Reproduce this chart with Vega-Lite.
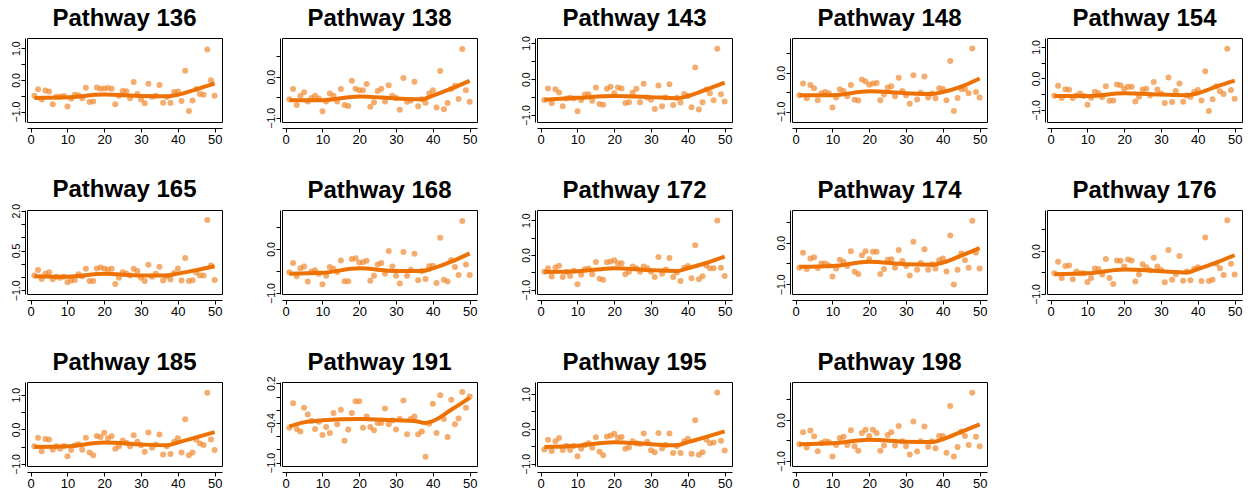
{
"$schema":"https://vega.github.io/schema/vega-lite/v6.json",
"padding":{"left":10,"top":6,"right":5,"bottom":5},
"bounds":"flush",
"columns":5,
"spacing":{"row":88,"column":60},
"datasets":{
"pts":[
{"p":"136","x":1,"y":-0.50},{"p":"136","x":2,"y":-0.30},{"p":"136","x":3,"y":-0.62},{"p":"136","x":4,"y":-0.34},{"p":"136","x":5,"y":-0.37},{"p":"136","x":6,"y":-0.77},{"p":"136","x":7,"y":-0.53},{"p":"136","x":8,"y":-0.53},{"p":"136","x":9,"y":-0.51},{"p":"136","x":10,"y":-0.84},
{"p":"136","x":11,"y":-0.59},{"p":"136","x":12,"y":-0.47},{"p":"136","x":13,"y":-0.49},{"p":"136","x":14,"y":-0.58},{"p":"136","x":15,"y":-0.25},{"p":"136","x":16,"y":-0.70},{"p":"136","x":17,"y":-0.68},{"p":"136","x":18,"y":-0.24},{"p":"136","x":19,"y":-0.28},{"p":"136","x":20,"y":-0.27},
{"p":"136","x":21,"y":-0.26},{"p":"136","x":22,"y":-0.28},{"p":"136","x":23,"y":-0.77},{"p":"136","x":24,"y":-0.50},{"p":"136","x":25,"y":-0.35},{"p":"136","x":26,"y":-0.36},{"p":"136","x":27,"y":-0.58},{"p":"136","x":28,"y":-0.07},{"p":"136","x":29,"y":-0.45},{"p":"136","x":30,"y":-0.62},
{"p":"136","x":31,"y":-0.74},{"p":"136","x":32,"y":-0.12},{"p":"136","x":33,"y":-0.53},{"p":"136","x":34,"y":-0.50},{"p":"136","x":35,"y":-0.16},{"p":"136","x":36,"y":-0.72},{"p":"136","x":37,"y":-0.54},{"p":"136","x":38,"y":-0.73},{"p":"136","x":39,"y":-0.38},{"p":"136","x":40,"y":-0.37},
{"p":"136","x":41,"y":-0.67},{"p":"136","x":42,"y":0.29},{"p":"136","x":43,"y":-0.98},{"p":"136","x":44,"y":-0.65},{"p":"136","x":45,"y":-0.29},{"p":"136","x":46,"y":-0.45},{"p":"136","x":47,"y":-0.47},{"p":"136","x":48,"y":0.96},{"p":"136","x":49,"y":-0.01},{"p":"136","x":50,"y":-0.50},
{"p":"138","x":1,"y":-0.55},{"p":"138","x":2,"y":-0.30},{"p":"138","x":3,"y":-0.69},{"p":"138","x":4,"y":-0.47},{"p":"138","x":5,"y":-0.38},{"p":"138","x":6,"y":-0.60},{"p":"138","x":7,"y":-0.52},{"p":"138","x":8,"y":-0.46},{"p":"138","x":9,"y":-0.53},{"p":"138","x":10,"y":-0.84},
{"p":"138","x":11,"y":-0.60},{"p":"138","x":12,"y":-0.41},{"p":"138","x":13,"y":-0.46},{"p":"138","x":14,"y":-0.60},{"p":"138","x":15,"y":-0.30},{"p":"138","x":16,"y":-0.69},{"p":"138","x":17,"y":-0.71},{"p":"138","x":18,"y":-0.10},{"p":"138","x":19,"y":-0.29},{"p":"138","x":20,"y":-0.33},
{"p":"138","x":21,"y":-0.33},{"p":"138","x":22,"y":-0.18},{"p":"138","x":23,"y":-0.73},{"p":"138","x":24,"y":-0.62},{"p":"138","x":25,"y":-0.35},{"p":"138","x":26,"y":-0.29},{"p":"138","x":27,"y":-0.60},{"p":"138","x":28,"y":-0.21},{"p":"138","x":29,"y":-0.46},{"p":"138","x":30,"y":-0.52},
{"p":"138","x":31,"y":-0.80},{"p":"138","x":32,"y":-0.03},{"p":"138","x":33,"y":-0.61},{"p":"138","x":34,"y":-0.58},{"p":"138","x":35,"y":-0.12},{"p":"138","x":36,"y":-0.72},{"p":"138","x":37,"y":-0.55},{"p":"138","x":38,"y":-0.63},{"p":"138","x":39,"y":-0.41},{"p":"138","x":40,"y":-0.33},
{"p":"138","x":41,"y":-0.75},{"p":"138","x":42,"y":0.14},{"p":"138","x":43,"y":-0.79},{"p":"138","x":44,"y":-0.64},{"p":"138","x":45,"y":-0.30},{"p":"138","x":46,"y":-0.22},{"p":"138","x":47,"y":-0.54},{"p":"138","x":48,"y":0.67},{"p":"138","x":49,"y":-0.33},{"p":"138","x":50,"y":-0.61},
{"p":"143","x":1,"y":-0.58},{"p":"143","x":2,"y":-0.26},{"p":"143","x":3,"y":-0.67},{"p":"143","x":4,"y":-0.28},{"p":"143","x":5,"y":-0.37},{"p":"143","x":6,"y":-0.75},{"p":"143","x":7,"y":-0.54},{"p":"143","x":8,"y":-0.52},{"p":"143","x":9,"y":-0.54},{"p":"143","x":10,"y":-0.89},
{"p":"143","x":11,"y":-0.58},{"p":"143","x":12,"y":-0.43},{"p":"143","x":13,"y":-0.42},{"p":"143","x":14,"y":-0.60},{"p":"143","x":15,"y":-0.23},{"p":"143","x":16,"y":-0.69},{"p":"143","x":17,"y":-0.71},{"p":"143","x":18,"y":-0.27},{"p":"143","x":19,"y":-0.21},{"p":"143","x":20,"y":-0.39},
{"p":"143","x":21,"y":-0.23},{"p":"143","x":22,"y":-0.26},{"p":"143","x":23,"y":-0.66},{"p":"143","x":24,"y":-0.64},{"p":"143","x":25,"y":-0.38},{"p":"143","x":26,"y":-0.27},{"p":"143","x":27,"y":-0.64},{"p":"143","x":28,"y":-0.13},{"p":"143","x":29,"y":-0.51},{"p":"143","x":30,"y":-0.57},
{"p":"143","x":31,"y":-0.83},{"p":"143","x":32,"y":-0.18},{"p":"143","x":33,"y":-0.75},{"p":"143","x":34,"y":-0.51},{"p":"143","x":35,"y":-0.14},{"p":"143","x":36,"y":-0.72},{"p":"143","x":37,"y":-0.52},{"p":"143","x":38,"y":-0.65},{"p":"143","x":39,"y":-0.41},{"p":"143","x":40,"y":-0.47},
{"p":"143","x":41,"y":-0.78},{"p":"143","x":42,"y":0.32},{"p":"143","x":43,"y":-0.84},{"p":"143","x":44,"y":-0.64},{"p":"143","x":45,"y":-0.29},{"p":"143","x":46,"y":-0.39},{"p":"143","x":47,"y":-0.59},{"p":"143","x":48,"y":0.84},{"p":"143","x":49,"y":-0.42},{"p":"143","x":50,"y":-0.62},
{"p":"148","x":1,"y":-0.58},{"p":"148","x":2,"y":-0.28},{"p":"148","x":3,"y":-0.66},{"p":"148","x":4,"y":-0.32},{"p":"148","x":5,"y":-0.40},{"p":"148","x":6,"y":-0.71},{"p":"148","x":7,"y":-0.53},{"p":"148","x":8,"y":-0.50},{"p":"148","x":9,"y":-0.53},{"p":"148","x":10,"y":-0.90},
{"p":"148","x":11,"y":-0.64},{"p":"148","x":12,"y":-0.43},{"p":"148","x":13,"y":-0.47},{"p":"148","x":14,"y":-0.61},{"p":"148","x":15,"y":-0.32},{"p":"148","x":16,"y":-0.70},{"p":"148","x":17,"y":-0.72},{"p":"148","x":18,"y":-0.18},{"p":"148","x":19,"y":-0.23},{"p":"148","x":20,"y":-0.31},
{"p":"148","x":21,"y":-0.28},{"p":"148","x":22,"y":-0.27},{"p":"148","x":23,"y":-0.71},{"p":"148","x":24,"y":-0.56},{"p":"148","x":25,"y":-0.38},{"p":"148","x":26,"y":-0.35},{"p":"148","x":27,"y":-0.61},{"p":"148","x":28,"y":-0.13},{"p":"148","x":29,"y":-0.47},{"p":"148","x":30,"y":-0.58},
{"p":"148","x":31,"y":-0.80},{"p":"148","x":32,"y":-0.07},{"p":"148","x":33,"y":-0.69},{"p":"148","x":34,"y":-0.52},{"p":"148","x":35,"y":-0.10},{"p":"148","x":36,"y":-0.64},{"p":"148","x":37,"y":-0.54},{"p":"148","x":38,"y":-0.66},{"p":"148","x":39,"y":-0.40},{"p":"148","x":40,"y":-0.42},
{"p":"148","x":41,"y":-0.71},{"p":"148","x":42,"y":0.30},{"p":"148","x":43,"y":-0.99},{"p":"148","x":44,"y":-0.65},{"p":"148","x":45,"y":-0.42},{"p":"148","x":46,"y":-0.42},{"p":"148","x":47,"y":-0.53},{"p":"148","x":48,"y":0.62},{"p":"148","x":49,"y":-0.50},{"p":"148","x":50,"y":-0.64},
{"p":"154","x":1,"y":-0.55},{"p":"154","x":2,"y":-0.23},{"p":"154","x":3,"y":-0.62},{"p":"154","x":4,"y":-0.34},{"p":"154","x":5,"y":-0.36},{"p":"154","x":6,"y":-0.62},{"p":"154","x":7,"y":-0.54},{"p":"154","x":8,"y":-0.48},{"p":"154","x":9,"y":-0.56},{"p":"154","x":10,"y":-0.83},
{"p":"154","x":11,"y":-0.61},{"p":"154","x":12,"y":-0.42},{"p":"154","x":13,"y":-0.47},{"p":"154","x":14,"y":-0.60},{"p":"154","x":15,"y":-0.25},{"p":"154","x":16,"y":-0.71},{"p":"154","x":17,"y":-0.70},{"p":"154","x":18,"y":-0.19},{"p":"154","x":19,"y":-0.22},{"p":"154","x":20,"y":-0.33},
{"p":"154","x":21,"y":-0.26},{"p":"154","x":22,"y":-0.26},{"p":"154","x":23,"y":-0.73},{"p":"154","x":24,"y":-0.58},{"p":"154","x":25,"y":-0.35},{"p":"154","x":26,"y":-0.33},{"p":"154","x":27,"y":-0.54},{"p":"154","x":28,"y":-0.11},{"p":"154","x":29,"y":-0.35},{"p":"154","x":30,"y":-0.48},
{"p":"154","x":31,"y":-0.78},{"p":"154","x":32,"y":0.03},{"p":"154","x":33,"y":-0.75},{"p":"154","x":34,"y":-0.40},{"p":"154","x":35,"y":-0.16},{"p":"154","x":36,"y":-0.74},{"p":"154","x":37,"y":-0.54},{"p":"154","x":38,"y":-0.59},{"p":"154","x":39,"y":-0.43},{"p":"154","x":40,"y":-0.37},
{"p":"154","x":41,"y":-0.70},{"p":"154","x":42,"y":0.23},{"p":"154","x":43,"y":-1.03},{"p":"154","x":44,"y":-0.66},{"p":"154","x":45,"y":-0.25},{"p":"154","x":46,"y":-0.41},{"p":"154","x":47,"y":-0.49},{"p":"154","x":48,"y":0.94},{"p":"154","x":49,"y":-0.37},{"p":"154","x":50,"y":-0.64},
{"p":"165","x":1,"y":-0.44},{"p":"165","x":2,"y":-0.23},{"p":"165","x":3,"y":-0.57},{"p":"165","x":4,"y":-0.38},{"p":"165","x":5,"y":-0.32},{"p":"165","x":6,"y":-0.58},{"p":"165","x":7,"y":-0.49},{"p":"165","x":8,"y":-0.53},{"p":"165","x":9,"y":-0.49},{"p":"165","x":10,"y":-0.70},
{"p":"165","x":11,"y":-0.63},{"p":"165","x":12,"y":-0.61},{"p":"165","x":13,"y":-0.39},{"p":"165","x":14,"y":-0.47},{"p":"165","x":15,"y":-0.19},{"p":"165","x":16,"y":-0.65},{"p":"165","x":17,"y":-0.65},{"p":"165","x":18,"y":-0.18},{"p":"165","x":19,"y":-0.14},{"p":"165","x":20,"y":-0.18},
{"p":"165","x":21,"y":-0.22},{"p":"165","x":22,"y":-0.19},{"p":"165","x":23,"y":-0.76},{"p":"165","x":24,"y":-0.53},{"p":"165","x":25,"y":-0.32},{"p":"165","x":26,"y":-0.37},{"p":"165","x":27,"y":-0.44},{"p":"165","x":28,"y":-0.19},{"p":"165","x":29,"y":-0.27},{"p":"165","x":30,"y":-0.53},
{"p":"165","x":31,"y":-0.65},{"p":"165","x":32,"y":-0.04},{"p":"165","x":33,"y":-0.49},{"p":"165","x":34,"y":-0.38},{"p":"165","x":35,"y":-0.11},{"p":"165","x":36,"y":-0.63},{"p":"165","x":37,"y":-0.47},{"p":"165","x":38,"y":-0.59},{"p":"165","x":39,"y":-0.35},{"p":"165","x":40,"y":-0.18},
{"p":"165","x":41,"y":-0.63},{"p":"165","x":42,"y":0.22},{"p":"165","x":43,"y":-0.65},{"p":"165","x":44,"y":-0.62},{"p":"165","x":45,"y":-0.33},{"p":"165","x":46,"y":-0.44},{"p":"165","x":47,"y":-0.44},{"p":"165","x":48,"y":1.65},{"p":"165","x":49,"y":-0.06},{"p":"165","x":50,"y":-0.61},
{"p":"168","x":1,"y":-0.53},{"p":"168","x":2,"y":-0.32},{"p":"168","x":3,"y":-0.62},{"p":"168","x":4,"y":-0.44},{"p":"168","x":5,"y":-0.40},{"p":"168","x":6,"y":-0.74},{"p":"168","x":7,"y":-0.51},{"p":"168","x":8,"y":-0.48},{"p":"168","x":9,"y":-0.56},{"p":"168","x":10,"y":-0.80},
{"p":"168","x":11,"y":-0.61},{"p":"168","x":12,"y":-0.41},{"p":"168","x":13,"y":-0.45},{"p":"168","x":14,"y":-0.52},{"p":"168","x":15,"y":-0.26},{"p":"168","x":16,"y":-0.73},{"p":"168","x":17,"y":-0.73},{"p":"168","x":18,"y":-0.23},{"p":"168","x":19,"y":-0.21},{"p":"168","x":20,"y":-0.31},
{"p":"168","x":21,"y":-0.30},{"p":"168","x":22,"y":-0.27},{"p":"168","x":23,"y":-0.72},{"p":"168","x":24,"y":-0.61},{"p":"168","x":25,"y":-0.35},{"p":"168","x":26,"y":-0.32},{"p":"168","x":27,"y":-0.56},{"p":"168","x":28,"y":-0.05},{"p":"168","x":29,"y":-0.40},{"p":"168","x":30,"y":-0.61},
{"p":"168","x":31,"y":-0.78},{"p":"168","x":32,"y":-0.07},{"p":"168","x":33,"y":-0.61},{"p":"168","x":34,"y":-0.47},{"p":"168","x":35,"y":-0.11},{"p":"168","x":36,"y":-0.71},{"p":"168","x":37,"y":-0.50},{"p":"168","x":38,"y":-0.68},{"p":"168","x":39,"y":-0.39},{"p":"168","x":40,"y":-0.38},
{"p":"168","x":41,"y":-0.77},{"p":"168","x":42,"y":0.25},{"p":"168","x":43,"y":-0.70},{"p":"168","x":44,"y":-0.74},{"p":"168","x":45,"y":-0.25},{"p":"168","x":46,"y":-0.41},{"p":"168","x":47,"y":-0.59},{"p":"168","x":48,"y":0.63},{"p":"168","x":49,"y":-0.35},{"p":"168","x":50,"y":-0.59},
{"p":"172","x":1,"y":-0.48},{"p":"172","x":2,"y":-0.38},{"p":"172","x":3,"y":-0.62},{"p":"172","x":4,"y":-0.36},{"p":"172","x":5,"y":-0.31},{"p":"172","x":6,"y":-0.63},{"p":"172","x":7,"y":-0.49},{"p":"172","x":8,"y":-0.60},{"p":"172","x":9,"y":-0.45},{"p":"172","x":10,"y":-0.84},
{"p":"172","x":11,"y":-0.57},{"p":"172","x":12,"y":-0.41},{"p":"172","x":13,"y":-0.39},{"p":"172","x":14,"y":-0.55},{"p":"172","x":15,"y":-0.20},{"p":"172","x":16,"y":-0.68},{"p":"172","x":17,"y":-0.71},{"p":"172","x":18,"y":-0.21},{"p":"172","x":19,"y":-0.19},{"p":"172","x":20,"y":-0.15},
{"p":"172","x":21,"y":-0.24},{"p":"172","x":22,"y":-0.24},{"p":"172","x":23,"y":-0.55},{"p":"172","x":24,"y":-0.48},{"p":"172","x":25,"y":-0.33},{"p":"172","x":26,"y":-0.38},{"p":"172","x":27,"y":-0.48},{"p":"172","x":28,"y":-0.33},{"p":"172","x":29,"y":-0.38},{"p":"172","x":30,"y":-0.48},
{"p":"172","x":31,"y":-0.63},{"p":"172","x":32,"y":-0.06},{"p":"172","x":33,"y":-0.54},{"p":"172","x":34,"y":-0.42},{"p":"172","x":35,"y":-0.09},{"p":"172","x":36,"y":-0.63},{"p":"172","x":37,"y":-0.50},{"p":"172","x":38,"y":-0.75},{"p":"172","x":39,"y":-0.37},{"p":"172","x":40,"y":-0.32},
{"p":"172","x":41,"y":-0.67},{"p":"172","x":42,"y":0.28},{"p":"172","x":43,"y":-0.70},{"p":"172","x":44,"y":-0.61},{"p":"172","x":45,"y":-0.30},{"p":"172","x":46,"y":-0.38},{"p":"172","x":47,"y":-0.38},{"p":"172","x":48,"y":0.99},{"p":"172","x":49,"y":-0.37},{"p":"172","x":50,"y":-0.60},
{"p":"174","x":1,"y":-0.60},{"p":"174","x":2,"y":-0.24},{"p":"174","x":3,"y":-0.63},{"p":"174","x":4,"y":-0.38},{"p":"174","x":5,"y":-0.35},{"p":"174","x":6,"y":-0.61},{"p":"174","x":7,"y":-0.50},{"p":"174","x":8,"y":-0.50},{"p":"174","x":9,"y":-0.55},{"p":"174","x":10,"y":-0.81},
{"p":"174","x":11,"y":-0.62},{"p":"174","x":12,"y":-0.41},{"p":"174","x":13,"y":-0.46},{"p":"174","x":14,"y":-0.56},{"p":"174","x":15,"y":-0.21},{"p":"174","x":16,"y":-0.70},{"p":"174","x":17,"y":-0.75},{"p":"174","x":18,"y":-0.30},{"p":"174","x":19,"y":-0.21},{"p":"174","x":20,"y":-0.40},
{"p":"174","x":21,"y":-0.22},{"p":"174","x":22,"y":-0.22},{"p":"174","x":23,"y":-0.75},{"p":"174","x":24,"y":-0.63},{"p":"174","x":25,"y":-0.41},{"p":"174","x":26,"y":-0.40},{"p":"174","x":27,"y":-0.60},{"p":"174","x":28,"y":-0.18},{"p":"174","x":29,"y":-0.44},{"p":"174","x":30,"y":-0.56},
{"p":"174","x":31,"y":-0.79},{"p":"174","x":32,"y":0.02},{"p":"174","x":33,"y":-0.65},{"p":"174","x":34,"y":-0.49},{"p":"174","x":35,"y":-0.16},{"p":"174","x":36,"y":-0.65},{"p":"174","x":37,"y":-0.52},{"p":"174","x":38,"y":-0.62},{"p":"174","x":39,"y":-0.42},{"p":"174","x":40,"y":-0.38},
{"p":"174","x":41,"y":-0.69},{"p":"174","x":42,"y":0.17},{"p":"174","x":43,"y":-1.00},{"p":"174","x":44,"y":-0.65},{"p":"174","x":45,"y":-0.26},{"p":"174","x":46,"y":-0.42},{"p":"174","x":47,"y":-0.60},{"p":"174","x":48,"y":0.52},{"p":"174","x":49,"y":-0.24},{"p":"174","x":50,"y":-0.62},
{"p":"176","x":1,"y":-0.52},{"p":"176","x":2,"y":-0.25},{"p":"176","x":3,"y":-0.63},{"p":"176","x":4,"y":-0.35},{"p":"176","x":5,"y":-0.34},{"p":"176","x":6,"y":-0.66},{"p":"176","x":7,"y":-0.48},{"p":"176","x":8,"y":-0.52},{"p":"176","x":9,"y":-0.52},{"p":"176","x":10,"y":-0.72},
{"p":"176","x":11,"y":-0.63},{"p":"176","x":12,"y":-0.41},{"p":"176","x":13,"y":-0.42},{"p":"176","x":14,"y":-0.55},{"p":"176","x":15,"y":-0.19},{"p":"176","x":16,"y":-0.63},{"p":"176","x":17,"y":-0.77},{"p":"176","x":18,"y":-0.22},{"p":"176","x":19,"y":-0.23},{"p":"176","x":20,"y":-0.36},
{"p":"176","x":21,"y":-0.20},{"p":"176","x":22,"y":-0.22},{"p":"176","x":23,"y":-0.71},{"p":"176","x":24,"y":-0.55},{"p":"176","x":25,"y":-0.31},{"p":"176","x":26,"y":-0.38},{"p":"176","x":27,"y":-0.45},{"p":"176","x":28,"y":-0.16},{"p":"176","x":29,"y":-0.36},{"p":"176","x":30,"y":-0.44},
{"p":"176","x":31,"y":-0.73},{"p":"176","x":32,"y":0.02},{"p":"176","x":33,"y":-0.67},{"p":"176","x":34,"y":-0.54},{"p":"176","x":35,"y":-0.12},{"p":"176","x":36,"y":-0.69},{"p":"176","x":37,"y":-0.48},{"p":"176","x":38,"y":-0.68},{"p":"176","x":39,"y":-0.42},{"p":"176","x":40,"y":-0.38},
{"p":"176","x":41,"y":-0.70},{"p":"176","x":42,"y":0.31},{"p":"176","x":43,"y":-0.70},{"p":"176","x":44,"y":-0.67},{"p":"176","x":45,"y":-0.30},{"p":"176","x":46,"y":-0.40},{"p":"176","x":47,"y":-0.56},{"p":"176","x":48,"y":0.71},{"p":"176","x":49,"y":-0.30},{"p":"176","x":50,"y":-0.55},
{"p":"185","x":1,"y":-0.49},{"p":"185","x":2,"y":-0.24},{"p":"185","x":3,"y":-0.63},{"p":"185","x":4,"y":-0.28},{"p":"185","x":5,"y":-0.29},{"p":"185","x":6,"y":-0.59},{"p":"185","x":7,"y":-0.49},{"p":"185","x":8,"y":-0.56},{"p":"185","x":9,"y":-0.48},{"p":"185","x":10,"y":-0.78},
{"p":"185","x":11,"y":-0.60},{"p":"185","x":12,"y":-0.46},{"p":"185","x":13,"y":-0.43},{"p":"185","x":14,"y":-0.59},{"p":"185","x":15,"y":-0.24},{"p":"185","x":16,"y":-0.67},{"p":"185","x":17,"y":-0.75},{"p":"185","x":18,"y":-0.19},{"p":"185","x":19,"y":-0.22},{"p":"185","x":20,"y":-0.10},
{"p":"185","x":21,"y":-0.26},{"p":"185","x":22,"y":-0.20},{"p":"185","x":23,"y":-0.56},{"p":"185","x":24,"y":-0.49},{"p":"185","x":25,"y":-0.32},{"p":"185","x":26,"y":-0.39},{"p":"185","x":27,"y":-0.49},{"p":"185","x":28,"y":-0.17},{"p":"185","x":29,"y":-0.36},{"p":"185","x":30,"y":-0.46},
{"p":"185","x":31,"y":-0.65},{"p":"185","x":32,"y":-0.09},{"p":"185","x":33,"y":-0.53},{"p":"185","x":34,"y":-0.44},{"p":"185","x":35,"y":-0.15},{"p":"185","x":36,"y":-0.73},{"p":"185","x":37,"y":-0.49},{"p":"185","x":38,"y":-0.71},{"p":"185","x":39,"y":-0.36},{"p":"185","x":40,"y":-0.26},
{"p":"185","x":41,"y":-0.67},{"p":"185","x":42,"y":0.29},{"p":"185","x":43,"y":-0.75},{"p":"185","x":44,"y":-0.67},{"p":"185","x":45,"y":-0.30},{"p":"185","x":46,"y":-0.41},{"p":"185","x":47,"y":-0.45},{"p":"185","x":48,"y":1.06},{"p":"185","x":49,"y":-0.29},{"p":"185","x":50,"y":-0.60},
{"p":"191","x":1,"y":-0.47},{"p":"191","x":2,"y":-0.10},{"p":"191","x":3,"y":-0.49},{"p":"191","x":4,"y":-0.53},{"p":"191","x":5,"y":-0.17},{"p":"191","x":6,"y":-0.27},{"p":"191","x":7,"y":-0.37},{"p":"191","x":8,"y":-0.49},{"p":"191","x":9,"y":-0.38},{"p":"191","x":10,"y":-0.58},
{"p":"191","x":11,"y":-0.46},{"p":"191","x":12,"y":-0.55},{"p":"191","x":13,"y":-0.25},{"p":"191","x":14,"y":-0.42},{"p":"191","x":15,"y":-0.20},{"p":"191","x":16,"y":-0.67},{"p":"191","x":17,"y":-0.50},{"p":"191","x":18,"y":-0.25},{"p":"191","x":19,"y":-0.07},{"p":"191","x":20,"y":-0.07},
{"p":"191","x":21,"y":-0.47},{"p":"191","x":22,"y":-0.30},{"p":"191","x":23,"y":-0.46},{"p":"191","x":24,"y":-0.51},{"p":"191","x":25,"y":-0.40},{"p":"191","x":26,"y":-0.40},{"p":"191","x":27,"y":-0.18},{"p":"191","x":28,"y":-0.42},{"p":"191","x":29,"y":-0.36},{"p":"191","x":30,"y":-0.50},
{"p":"191","x":31,"y":-0.34},{"p":"191","x":32,"y":-0.06},{"p":"191","x":33,"y":-0.57},{"p":"191","x":34,"y":-0.34},{"p":"191","x":35,"y":-0.30},{"p":"191","x":36,"y":-0.57},{"p":"191","x":37,"y":-0.53},{"p":"191","x":38,"y":-0.91},{"p":"191","x":39,"y":-0.41},{"p":"191","x":40,"y":-0.11},
{"p":"191","x":41,"y":-0.55},{"p":"191","x":42,"y":0.02},{"p":"191","x":43,"y":-0.34},{"p":"191","x":44,"y":-0.61},{"p":"191","x":45,"y":-0.05},{"p":"191","x":46,"y":-0.42},{"p":"191","x":47,"y":-0.33},{"p":"191","x":48,"y":0.07},{"p":"191","x":49,"y":-0.17},{"p":"191","x":50,"y":0.00},
{"p":"195","x":1,"y":-0.59},{"p":"195","x":2,"y":-0.31},{"p":"195","x":3,"y":-0.63},{"p":"195","x":4,"y":-0.35},{"p":"195","x":5,"y":-0.26},{"p":"195","x":6,"y":-0.60},{"p":"195","x":7,"y":-0.48},{"p":"195","x":8,"y":-0.60},{"p":"195","x":9,"y":-0.49},{"p":"195","x":10,"y":-0.78},
{"p":"195","x":11,"y":-0.57},{"p":"195","x":12,"y":-0.46},{"p":"195","x":13,"y":-0.41},{"p":"195","x":14,"y":-0.54},{"p":"195","x":15,"y":-0.24},{"p":"195","x":16,"y":-0.65},{"p":"195","x":17,"y":-0.75},{"p":"195","x":18,"y":-0.22},{"p":"195","x":19,"y":-0.19},{"p":"195","x":20,"y":-0.14},
{"p":"195","x":21,"y":-0.25},{"p":"195","x":22,"y":-0.23},{"p":"195","x":23,"y":-0.57},{"p":"195","x":24,"y":-0.53},{"p":"195","x":25,"y":-0.35},{"p":"195","x":26,"y":-0.41},{"p":"195","x":27,"y":-0.43},{"p":"195","x":28,"y":-0.13},{"p":"195","x":29,"y":-0.37},{"p":"195","x":30,"y":-0.61},
{"p":"195","x":31,"y":-0.67},{"p":"195","x":32,"y":-0.12},{"p":"195","x":33,"y":-0.56},{"p":"195","x":34,"y":-0.46},{"p":"195","x":35,"y":-0.13},{"p":"195","x":36,"y":-0.69},{"p":"195","x":37,"y":-0.49},{"p":"195","x":38,"y":-0.69},{"p":"195","x":39,"y":-0.35},{"p":"195","x":40,"y":-0.28},
{"p":"195","x":41,"y":-0.71},{"p":"195","x":42,"y":0.25},{"p":"195","x":43,"y":-0.74},{"p":"195","x":44,"y":-0.67},{"p":"195","x":45,"y":-0.30},{"p":"195","x":46,"y":-0.41},{"p":"195","x":47,"y":-0.39},{"p":"195","x":48,"y":1.04},{"p":"195","x":49,"y":-0.34},{"p":"195","x":50,"y":-0.62},
{"p":"198","x":1,"y":-0.59},{"p":"198","x":2,"y":-0.30},{"p":"198","x":3,"y":-0.67},{"p":"198","x":4,"y":-0.26},{"p":"198","x":5,"y":-0.40},{"p":"198","x":6,"y":-0.76},{"p":"198","x":7,"y":-0.56},{"p":"198","x":8,"y":-0.52},{"p":"198","x":9,"y":-0.54},{"p":"198","x":10,"y":-0.89},
{"p":"198","x":11,"y":-0.61},{"p":"198","x":12,"y":-0.44},{"p":"198","x":13,"y":-0.41},{"p":"198","x":14,"y":-0.61},{"p":"198","x":15,"y":-0.25},{"p":"198","x":16,"y":-0.64},{"p":"198","x":17,"y":-0.75},{"p":"198","x":18,"y":-0.32},{"p":"198","x":19,"y":-0.24},{"p":"198","x":20,"y":-0.39},
{"p":"198","x":21,"y":-0.24},{"p":"198","x":22,"y":-0.32},{"p":"198","x":23,"y":-0.75},{"p":"198","x":24,"y":-0.62},{"p":"198","x":25,"y":-0.37},{"p":"198","x":26,"y":-0.30},{"p":"198","x":27,"y":-0.62},{"p":"198","x":28,"y":-0.15},{"p":"198","x":29,"y":-0.52},{"p":"198","x":30,"y":-0.64},
{"p":"198","x":31,"y":-0.84},{"p":"198","x":32,"y":-0.04},{"p":"198","x":33,"y":-0.77},{"p":"198","x":34,"y":-0.52},{"p":"198","x":35,"y":-0.16},{"p":"198","x":36,"y":-0.65},{"p":"198","x":37,"y":-0.52},{"p":"198","x":38,"y":-0.69},{"p":"198","x":39,"y":-0.39},{"p":"198","x":40,"y":-0.39},
{"p":"198","x":41,"y":-0.80},{"p":"198","x":42,"y":0.34},{"p":"198","x":43,"y":-0.89},{"p":"198","x":44,"y":-0.66},{"p":"198","x":45,"y":-0.29},{"p":"198","x":46,"y":-0.39},{"p":"198","x":47,"y":-0.61},{"p":"198","x":48,"y":0.66},{"p":"198","x":49,"y":-0.41},{"p":"198","x":50,"y":-0.64}
],
"fit":[
{"p":"136","x":1,"y":-0.57},{"p":"136","x":10,"y":-0.55},{"p":"136","x":20,"y":-0.46},{"p":"136","x":30,"y":-0.51},{"p":"136","x":37,"y":-0.52},{"p":"136","x":40,"y":-0.47},{"p":"136","x":45,"y":-0.30},{"p":"136","x":50,"y":-0.11},
{"p":"138","x":1,"y":-0.57},{"p":"138","x":10,"y":-0.57},{"p":"138","x":20,"y":-0.48},{"p":"138","x":30,"y":-0.53},{"p":"138","x":37,"y":-0.55},{"p":"138","x":40,"y":-0.46},{"p":"138","x":45,"y":-0.29},{"p":"138","x":50,"y":-0.10},
{"p":"143","x":1,"y":-0.57},{"p":"143","x":10,"y":-0.52},{"p":"143","x":20,"y":-0.47},{"p":"143","x":30,"y":-0.50},{"p":"143","x":37,"y":-0.53},{"p":"143","x":40,"y":-0.47},{"p":"143","x":45,"y":-0.29},{"p":"143","x":50,"y":-0.10},
{"p":"148","x":1,"y":-0.58},{"p":"148","x":10,"y":-0.58},{"p":"148","x":20,"y":-0.48},{"p":"148","x":30,"y":-0.53},{"p":"148","x":37,"y":-0.55},{"p":"148","x":40,"y":-0.50},{"p":"148","x":45,"y":-0.36},{"p":"148","x":50,"y":-0.15},
{"p":"154","x":1,"y":-0.56},{"p":"154","x":10,"y":-0.56},{"p":"154","x":20,"y":-0.47},{"p":"154","x":30,"y":-0.51},{"p":"154","x":37,"y":-0.53},{"p":"154","x":40,"y":-0.47},{"p":"154","x":45,"y":-0.26},{"p":"154","x":50,"y":-0.07},
{"p":"165","x":1,"y":-0.47},{"p":"165","x":10,"y":-0.49},{"p":"165","x":20,"y":-0.38},{"p":"165","x":30,"y":-0.44},{"p":"165","x":37,"y":-0.44},{"p":"165","x":40,"y":-0.37},{"p":"165","x":45,"y":-0.24},{"p":"165","x":50,"y":-0.09},
{"p":"168","x":1,"y":-0.56},{"p":"168","x":10,"y":-0.54},{"p":"168","x":20,"y":-0.44},{"p":"168","x":30,"y":-0.50},{"p":"168","x":37,"y":-0.50},{"p":"168","x":40,"y":-0.44},{"p":"168","x":45,"y":-0.29},{"p":"168","x":50,"y":-0.10},
{"p":"172","x":1,"y":-0.49},{"p":"172","x":10,"y":-0.47},{"p":"172","x":20,"y":-0.38},{"p":"172","x":30,"y":-0.44},{"p":"172","x":37,"y":-0.46},{"p":"172","x":40,"y":-0.38},{"p":"172","x":45,"y":-0.23},{"p":"172","x":50,"y":-0.05},
{"p":"174","x":1,"y":-0.58},{"p":"174","x":10,"y":-0.56},{"p":"174","x":20,"y":-0.46},{"p":"174","x":30,"y":-0.52},{"p":"174","x":37,"y":-0.53},{"p":"174","x":40,"y":-0.48},{"p":"174","x":45,"y":-0.31},{"p":"174","x":50,"y":-0.13},
{"p":"176","x":1,"y":-0.54},{"p":"176","x":10,"y":-0.52},{"p":"176","x":20,"y":-0.43},{"p":"176","x":30,"y":-0.47},{"p":"176","x":37,"y":-0.50},{"p":"176","x":40,"y":-0.42},{"p":"176","x":45,"y":-0.27},{"p":"176","x":50,"y":-0.10},
{"p":"185","x":1,"y":-0.51},{"p":"185","x":10,"y":-0.49},{"p":"185","x":20,"y":-0.38},{"p":"185","x":30,"y":-0.44},{"p":"185","x":37,"y":-0.46},{"p":"185","x":40,"y":-0.38},{"p":"185","x":45,"y":-0.23},{"p":"185","x":50,"y":-0.08},
{"p":"191","x":1,"y":-0.45},{"p":"191","x":5,"y":-0.39},{"p":"191","x":10,"y":-0.36},{"p":"191","x":20,"y":-0.34},{"p":"191","x":30,"y":-0.36},{"p":"191","x":35,"y":-0.37},{"p":"191","x":38,"y":-0.40},{"p":"191","x":40,"y":-0.37},{"p":"191","x":45,"y":-0.20},{"p":"191","x":50,"y":-0.02},
{"p":"195","x":1,"y":-0.52},{"p":"195","x":10,"y":-0.48},{"p":"195","x":20,"y":-0.38},{"p":"195","x":30,"y":-0.44},{"p":"195","x":37,"y":-0.47},{"p":"195","x":40,"y":-0.38},{"p":"195","x":45,"y":-0.23},{"p":"195","x":50,"y":-0.07},
{"p":"198","x":1,"y":-0.59},{"p":"198","x":10,"y":-0.57},{"p":"198","x":20,"y":-0.48},{"p":"198","x":30,"y":-0.53},{"p":"198","x":37,"y":-0.54},{"p":"198","x":40,"y":-0.47},{"p":"198","x":45,"y":-0.29},{"p":"198","x":50,"y":-0.11}
]
},
"concat":[
{"title":{"text":"Pathway 136"},"width":195,"height":84,
 "encoding":{"x":{"field":"x","type":"quantitative","scale":{"domain":[-1,52],"nice":false,"zero":false},"axis":{"values":[0,10,20,30,40,50],"labelOverlap":false,"title":null}},
  "y":{"field":"y","type":"quantitative","scale":{"domain":[-1.33,1.32],"nice":false,"zero":false},"axis":{"values":[-1,-0.5,0,0.5,1],"labelOverlap":false,"labelExpr":"datum.value % 1 == 0 ? format(datum.value, '.1f') : ''","title":null}}},
 "layer":[
 {"data":{"name":"pts"},"transform":[{"filter":"datum.p == '136'"}],"mark":{"type":"circle","size":36,"color":"#F08A30","opacity":0.7}},
 {"data":{"name":"fit"},"transform":[{"filter":"datum.p == '136'"}],"mark":{"type":"line","color":"#EE7203","strokeWidth":4,"interpolate":"monotone"}}]},
{"title":{"text":"Pathway 138"},"width":195,"height":84,
 "encoding":{"x":{"field":"x","type":"quantitative","scale":{"domain":[-1,52],"nice":false,"zero":false},"axis":{"values":[0,10,20,30,40,50],"labelOverlap":false,"title":null}},
  "y":{"field":"y","type":"quantitative","scale":{"domain":[-1.10,0.94],"nice":false,"zero":false},"axis":{"values":[-1,-0.5,0,0.5],"labelOverlap":false,"labelExpr":"datum.value % 1 == 0 ? format(datum.value, '.1f') : ''","title":null}}},
 "layer":[
 {"data":{"name":"pts"},"transform":[{"filter":"datum.p == '138'"}],"mark":{"type":"circle","size":36,"color":"#F08A30","opacity":0.7}},
 {"data":{"name":"fit"},"transform":[{"filter":"datum.p == '138'"}],"mark":{"type":"line","color":"#EE7203","strokeWidth":4,"interpolate":"monotone"}}]},
{"title":{"text":"Pathway 143","offset":5},"width":195,"height":84,
 "encoding":{"x":{"field":"x","type":"quantitative","scale":{"domain":[-1,52],"nice":false,"zero":false},"axis":{"values":[0,10,20,30,40,50],"labelOverlap":false,"title":null}},
  "y":{"field":"y","type":"quantitative","scale":{"domain":[-1.19,1.14],"nice":false,"zero":false},"axis":{"values":[-1,-0.5,0,0.5,1],"labelOverlap":false,"labelExpr":"datum.value % 1 == 0 ? format(datum.value, '.1f') : ''","title":null}}},
 "layer":[
 {"data":{"name":"pts"},"transform":[{"filter":"datum.p == '143'"}],"mark":{"type":"circle","size":36,"color":"#F08A30","opacity":0.7}},
 {"data":{"name":"fit"},"transform":[{"filter":"datum.p == '143'"}],"mark":{"type":"line","color":"#EE7203","strokeWidth":4,"interpolate":"monotone"}}]},
{"title":{"text":"Pathway 148"},"width":195,"height":84,
 "encoding":{"x":{"field":"x","type":"quantitative","scale":{"domain":[-1,52],"nice":false,"zero":false},"axis":{"values":[0,10,20,30,40,50],"labelOverlap":false,"title":null}},
  "y":{"field":"y","type":"quantitative","scale":{"domain":[-1.27,0.89],"nice":false,"zero":false},"axis":{"values":[-1,-0.5,0,0.5],"labelOverlap":false,"labelExpr":"datum.value % 1 == 0 ? format(datum.value, '.1f') : ''","title":null}}},
 "layer":[
 {"data":{"name":"pts"},"transform":[{"filter":"datum.p == '148'"}],"mark":{"type":"circle","size":36,"color":"#F08A30","opacity":0.7}},
 {"data":{"name":"fit"},"transform":[{"filter":"datum.p == '148'"}],"mark":{"type":"line","color":"#EE7203","strokeWidth":4,"interpolate":"monotone"}}]},
{"title":{"text":"Pathway 154"},"width":195,"height":84,
 "encoding":{"x":{"field":"x","type":"quantitative","scale":{"domain":[-1,52],"nice":false,"zero":false},"axis":{"values":[0,10,20,30,40,50],"labelOverlap":false,"title":null}},
  "y":{"field":"y","type":"quantitative","scale":{"domain":[-1.38,1.28],"nice":false,"zero":false},"axis":{"values":[-1,-0.5,0,0.5,1],"labelOverlap":false,"labelExpr":"datum.value % 1 == 0 ? format(datum.value, '.1f') : ''","title":null}}},
 "layer":[
 {"data":{"name":"pts"},"transform":[{"filter":"datum.p == '154'"}],"mark":{"type":"circle","size":36,"color":"#F08A30","opacity":0.7}},
 {"data":{"name":"fit"},"transform":[{"filter":"datum.p == '154'"}],"mark":{"type":"line","color":"#EE7203","strokeWidth":4,"interpolate":"monotone"}}]},
{"title":{"text":"Pathway 165","offset":1},"width":195,"height":84,
 "encoding":{"x":{"field":"x","type":"quantitative","scale":{"domain":[-1,52],"nice":false,"zero":false},"axis":{"values":[0,10,20,30,40,50],"labelOverlap":false,"title":null}},
  "y":{"field":"y","type":"quantitative","scale":{"domain":[-1.14,2.03],"nice":false,"zero":false},"axis":{"values":[-1,-0.5,0,0.5,1,1.5,2],"labelOverlap":false,"labelExpr":"datum.value == -1 || datum.value == 0.5 || datum.value == 2 ? format(datum.value, '.1f') : ''","title":null}}},
 "layer":[
 {"data":{"name":"pts"},"transform":[{"filter":"datum.p == '165'"}],"mark":{"type":"circle","size":36,"color":"#F08A30","opacity":0.7}},
 {"data":{"name":"fit"},"transform":[{"filter":"datum.p == '165'"}],"mark":{"type":"line","color":"#EE7203","strokeWidth":4,"interpolate":"monotone"}}]},
{"title":{"text":"Pathway 168"},"width":195,"height":84,
 "encoding":{"x":{"field":"x","type":"quantitative","scale":{"domain":[-1,52],"nice":false,"zero":false},"axis":{"values":[0,10,20,30,40,50],"labelOverlap":false,"title":null}},
  "y":{"field":"y","type":"quantitative","scale":{"domain":[-1.02,0.88],"nice":false,"zero":false},"axis":{"values":[-1,-0.5,0,0.5],"labelOverlap":false,"labelExpr":"datum.value % 1 == 0 ? format(datum.value, '.1f') : ''","title":null}}},
 "layer":[
 {"data":{"name":"pts"},"transform":[{"filter":"datum.p == '168'"}],"mark":{"type":"circle","size":36,"color":"#F08A30","opacity":0.7}},
 {"data":{"name":"fit"},"transform":[{"filter":"datum.p == '168'"}],"mark":{"type":"line","color":"#EE7203","strokeWidth":4,"interpolate":"monotone"}}]},
{"title":{"text":"Pathway 172"},"width":195,"height":84,
 "encoding":{"x":{"field":"x","type":"quantitative","scale":{"domain":[-1,52],"nice":false,"zero":false},"axis":{"values":[0,10,20,30,40,50],"labelOverlap":false,"title":null}},
  "y":{"field":"y","type":"quantitative","scale":{"domain":[-1.12,1.29],"nice":false,"zero":false},"axis":{"values":[-1,-0.5,0,0.5,1],"labelOverlap":false,"labelExpr":"datum.value % 1 == 0 ? format(datum.value, '.1f') : ''","title":null}}},
 "layer":[
 {"data":{"name":"pts"},"transform":[{"filter":"datum.p == '172'"}],"mark":{"type":"circle","size":36,"color":"#F08A30","opacity":0.7}},
 {"data":{"name":"fit"},"transform":[{"filter":"datum.p == '172'"}],"mark":{"type":"line","color":"#EE7203","strokeWidth":4,"interpolate":"monotone"}}]},
{"title":{"text":"Pathway 174"},"width":195,"height":84,
 "encoding":{"x":{"field":"x","type":"quantitative","scale":{"domain":[-1,52],"nice":false,"zero":false},"axis":{"values":[0,10,20,30,40,50],"labelOverlap":false,"title":null}},
  "y":{"field":"y","type":"quantitative","scale":{"domain":[-1.23,0.78],"nice":false,"zero":false},"axis":{"values":[-1,-0.5,0,0.5],"labelOverlap":false,"labelExpr":"datum.value % 1 == 0 ? format(datum.value, '.1f') : ''","title":null}}},
 "layer":[
 {"data":{"name":"pts"},"transform":[{"filter":"datum.p == '174'"}],"mark":{"type":"circle","size":36,"color":"#F08A30","opacity":0.7}},
 {"data":{"name":"fit"},"transform":[{"filter":"datum.p == '174'"}],"mark":{"type":"line","color":"#EE7203","strokeWidth":4,"interpolate":"monotone"}}]},
{"title":{"text":"Pathway 176"},"width":195,"height":84,
 "encoding":{"x":{"field":"x","type":"quantitative","scale":{"domain":[-1,52],"nice":false,"zero":false},"axis":{"values":[0,10,20,30,40,50],"labelOverlap":false,"title":null}},
  "y":{"field":"y","type":"quantitative","scale":{"domain":[-1.00,0.95],"nice":false,"zero":false},"axis":{"values":[-1,-0.5,0,0.5],"labelOverlap":false,"labelExpr":"datum.value % 1 == 0 ? format(datum.value, '.1f') : ''","title":null}}},
 "layer":[
 {"data":{"name":"pts"},"transform":[{"filter":"datum.p == '176'"}],"mark":{"type":"circle","size":36,"color":"#F08A30","opacity":0.7}},
 {"data":{"name":"fit"},"transform":[{"filter":"datum.p == '176'"}],"mark":{"type":"line","color":"#EE7203","strokeWidth":4,"interpolate":"monotone"}}]},
{"title":{"text":"Pathway 185"},"width":195,"height":84,
 "encoding":{"x":{"field":"x","type":"quantitative","scale":{"domain":[-1,52],"nice":false,"zero":false},"axis":{"values":[0,10,20,30,40,50],"labelOverlap":false,"title":null}},
  "y":{"field":"y","type":"quantitative","scale":{"domain":[-1.06,1.37],"nice":false,"zero":false},"axis":{"values":[-1,-0.5,0,0.5,1],"labelOverlap":false,"labelExpr":"datum.value % 1 == 0 ? format(datum.value, '.1f') : ''","title":null}}},
 "layer":[
 {"data":{"name":"pts"},"transform":[{"filter":"datum.p == '185'"}],"mark":{"type":"circle","size":36,"color":"#F08A30","opacity":0.7}},
 {"data":{"name":"fit"},"transform":[{"filter":"datum.p == '185'"}],"mark":{"type":"line","color":"#EE7203","strokeWidth":4,"interpolate":"monotone"}}]},
{"title":{"text":"Pathway 191","offset":1.3},"width":195,"height":84,
 "encoding":{"x":{"field":"x","type":"quantitative","scale":{"domain":[-1,52],"nice":false,"zero":false},"axis":{"values":[0,10,20,30,40,50],"labelOverlap":false,"title":null}},
  "y":{"field":"y","type":"quantitative","scale":{"domain":[-1.05,0.22],"nice":false,"zero":false},"axis":{"values":[-1,-0.8,-0.6,-0.4,-0.2,0,0.2],"labelOverlap":false,"labelExpr":"datum.value == -1 || datum.value == -0.4 || datum.value == 0.2 ? format(datum.value, '.1f') : ''","title":null}}},
 "layer":[
 {"data":{"name":"pts"},"transform":[{"filter":"datum.p == '191'"}],"mark":{"type":"circle","size":36,"color":"#F08A30","opacity":0.7}},
 {"data":{"name":"fit"},"transform":[{"filter":"datum.p == '191'"}],"mark":{"type":"line","color":"#EE7203","strokeWidth":4,"interpolate":"monotone"}}]},
{"title":{"text":"Pathway 195"},"width":195,"height":84,
 "encoding":{"x":{"field":"x","type":"quantitative","scale":{"domain":[-1,52],"nice":false,"zero":false},"axis":{"values":[0,10,20,30,40,50],"labelOverlap":false,"title":null}},
  "y":{"field":"y","type":"quantitative","scale":{"domain":[-1.06,1.34],"nice":false,"zero":false},"axis":{"values":[-1,-0.5,0,0.5,1],"labelOverlap":false,"labelExpr":"datum.value % 1 == 0 ? format(datum.value, '.1f') : ''","title":null}}},
 "layer":[
 {"data":{"name":"pts"},"transform":[{"filter":"datum.p == '195'"}],"mark":{"type":"circle","size":36,"color":"#F08A30","opacity":0.7}},
 {"data":{"name":"fit"},"transform":[{"filter":"datum.p == '195'"}],"mark":{"type":"line","color":"#EE7203","strokeWidth":4,"interpolate":"monotone"}}]},
{"title":{"text":"Pathway 198"},"width":195,"height":84,
 "encoding":{"x":{"field":"x","type":"quantitative","scale":{"domain":[-1,52],"nice":false,"zero":false},"axis":{"values":[0,10,20,30,40,50],"labelOverlap":false,"title":null}},
  "y":{"field":"y","type":"quantitative","scale":{"domain":[-1.12,0.92],"nice":false,"zero":false},"axis":{"values":[-1,-0.5,0,0.5],"labelOverlap":false,"labelExpr":"datum.value % 1 == 0 ? format(datum.value, '.1f') : ''","title":null}}},
 "layer":[
 {"data":{"name":"pts"},"transform":[{"filter":"datum.p == '198'"}],"mark":{"type":"circle","size":36,"color":"#F08A30","opacity":0.7}},
 {"data":{"name":"fit"},"transform":[{"filter":"datum.p == '198'"}],"mark":{"type":"line","color":"#EE7203","strokeWidth":4,"interpolate":"monotone"}}]}
],
"config":{
 "font":"Liberation Sans",
 "background":"#ffffff",
 "view":{"stroke":"#000000","strokeWidth":1},
 "axis":{"grid":false,"domainColor":"#000000","tickColor":"#000000","labelColor":"#000000","labelFont":"Liberation Sans","domainWidth":1,"tickWidth":1,"labelFlush":false,"labelOverlap":false},
 "axisX":{"offset":6,"tickSize":4,"labelPadding":1,"labelFontSize":13},
 "axisY":{"offset":2,"tickSize":4,"labelAngle":270,"labelAlign":"center","labelBaseline":"alphabetic","labelPadding":2,"labelFontSize":10.5},
 "title":{"fontSize":24,"fontWeight":"bold","font":"Liberation Sans","anchor":"middle","offset":7,"baseline":"alphabetic","color":"#000000"}
}
}
